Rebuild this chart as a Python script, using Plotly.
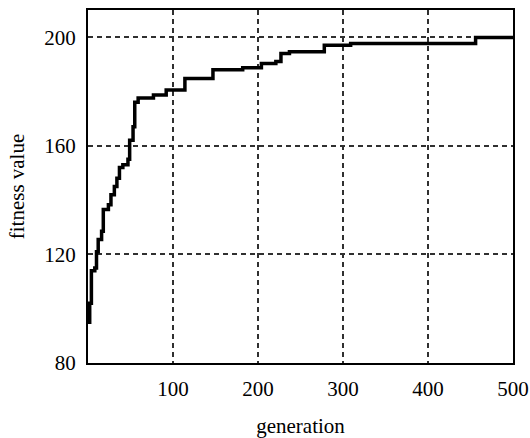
import plotly.graph_objects as go

generation = [0, 2, 4, 8, 10, 12, 16, 18, 24, 27, 31, 34, 37, 41, 47, 49, 53, 55, 59,
              77, 92, 114, 147, 182, 204, 221, 227, 237, 278, 309, 456, 500]
fitness = [95, 102, 114, 115, 121, 125.5, 128.5, 136.5, 138.3, 142, 145, 148, 152, 153,
           155, 162, 167, 176, 177.6, 178.7, 180.5, 184.8, 188, 188.7, 190.3, 191, 194,
           194.6, 197, 197.7, 199.9, 199.9]

x_ticks = [100, 200, 300, 400, 500]
y_ticks = [80, 120, 160, 200]

tick_font = dict(family="Liberation Serif, Times New Roman, serif", size=21, color="black")
title_font = dict(family="Liberation Serif, Times New Roman, serif", size=21, color="black")

fig = go.Figure()
fig.add_trace(go.Scatter(
    x=generation, y=fitness, mode="lines", line_shape="hv",
    line=dict(color="black", width=3.5), showlegend=False,
))

axis_common = dict(
    showline=True, linecolor="black", linewidth=2, mirror=True,
    showgrid=True, gridcolor="#303030", gridwidth=2, griddash="5px,4px",
    zeroline=False, ticks="", tickfont=tick_font, ticklabelstandoff=6,
)

fig.update_xaxes(range=[0, 500], tickvals=x_ticks, ticktext=[str(v) for v in x_ticks],
                 title=dict(text="generation", font=title_font, standoff=20), **axis_common)
fig.update_yaxes(range=[80, 210], tickvals=y_ticks, ticktext=[str(v) for v in y_ticks],
                 title=dict(text="fitness value", font=title_font, standoff=14), **axis_common)

fig.update_layout(
    width=530, height=438,
    margin=dict(l=88, r=17, t=10, b=75, autoexpand=False),
    paper_bgcolor="white", plot_bgcolor="white",
)

fig.write_html("out.html", config={"displayModeBar": False},
               post_script="document.body.style.margin='0';document.body.style.overflow='hidden';")
